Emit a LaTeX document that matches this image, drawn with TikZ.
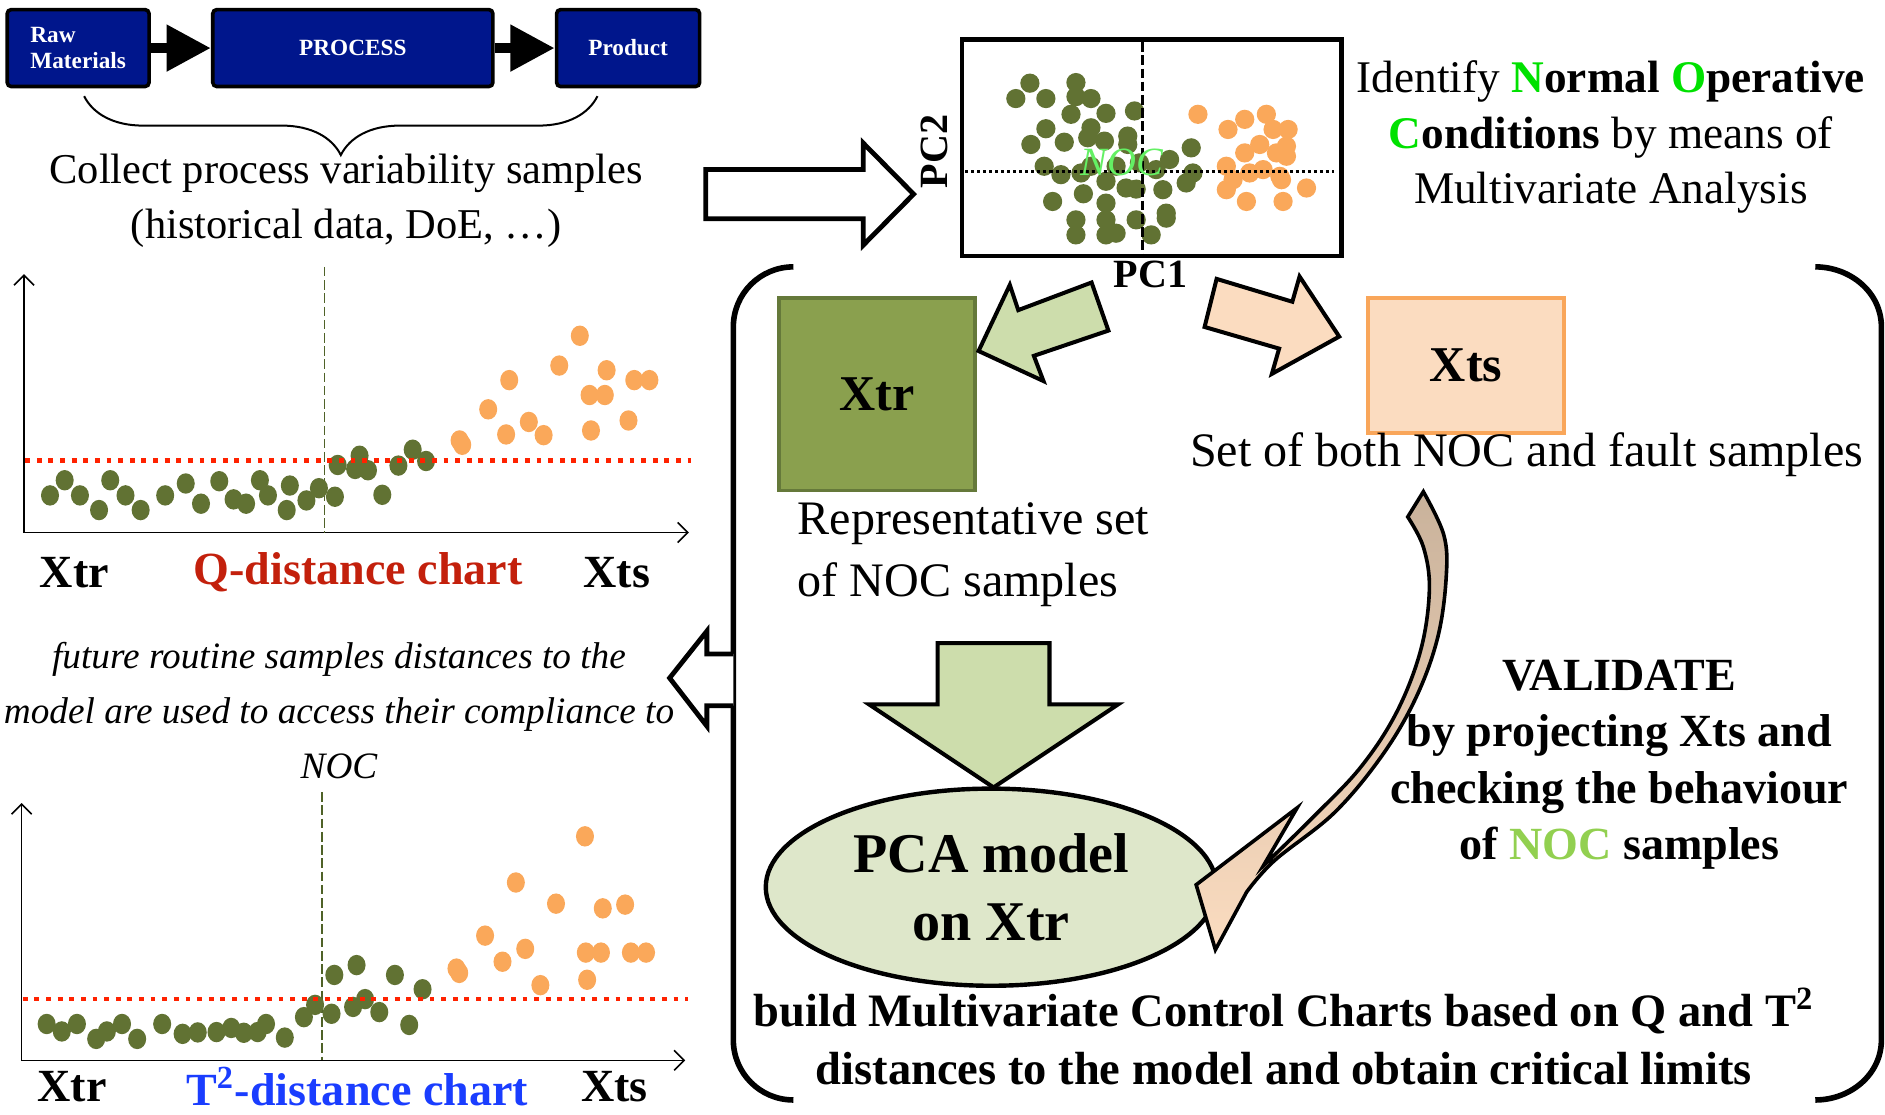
\documentclass[tikz,border=0pt]{standalone}
\usepackage{fontspec}
\setmainfont{Liberation Serif}
\usetikzlibrary{arrows.meta,decorations.pathreplacing,shapes.geometric,positioning}

\definecolor{navy}{RGB}{0,22,140}
\definecolor{olivedot}{RGB}{97,114,51}
\definecolor{orangedot}{RGB}{250,168,90}
\definecolor{limitred}{RGB}{255,34,0}
\definecolor{splitolive}{RGB}{79,98,40}
\definecolor{qred}{RGB}{195,32,12}
\definecolor{tblue}{RGB}{26,61,255}
\definecolor{xtrfill}{RGB}{138,160,78}
\definecolor{xtrline}{RGB}{101,121,58}
\definecolor{lightgreen}{RGB}{205,221,172}
\definecolor{palegreen}{RGB}{222,231,202}
\definecolor{peach}{RGB}{251,220,192}
\definecolor{xtsline}{RGB}{249,166,90}
\definecolor{tan}{RGB}{201,178,155}
\definecolor{idgreen}{RGB}{0,225,0}
\definecolor{nocgreen}{RGB}{100,240,100}
\definecolor{valgreen}{RGB}{146,208,80}

\begin{document}
\begin{tikzpicture}[x=0.3pt, y=-0.3pt,
  procbox/.style={draw=black, fill=navy, line width=0.9pt, rounded corners=1pt,
    minimum height=19.2pt, inner sep=0pt, text=white, align=left,
    font=\fontsize{5.8}{6.6}\selectfont\bfseries},
  flowarrow/.style={line width=2.7pt, -{Triangle[length=11.1pt, width=11pt]}},
  hollowarrow/.style={draw=black, fill=white, line width=1.2pt},
  greenarrow/.style={draw=black, fill=lightgreen, line width=1pt},
  peacharrow/.style={draw=black, fill=peach, line width=1pt},
  plaintext/.style={inner sep=0pt, align=center, font=\fontsize{12}{15.3}\selectfont},
  smalltext/.style={inner sep=0pt, align=center, font=\fontsize{10.6}{13.8}\selectfont},
  boldtext/.style={inner sep=0pt, align=center, font=\fontsize{11.5}{14.1}\selectfont\bfseries},
  chartlabel/.style={inner sep=0pt, font=\fontsize{11.5}{13}\selectfont\bfseries},
  chartaxis/.style={line width=0.4pt, {Straight Barb[length=2.5pt]}-{Straight Barb[length=2.5pt]}},
  splitline/.style={splitolive, line width=0.4pt, dash pattern=on 2.4pt off 0.9pt},
  limitline/.style={limitred, line width=1.2pt, dash pattern=on 1.2pt off 1.7pt},
  bracket/.style={line width=1.4pt},
  gdot/.style={fill=olivedot},
  odot/.style={fill=orangedot}]

  \useasboundingbox (0,0) rectangle (1568,927);

  % process flow on top
  \node (raw) [procbox, minimum width=35.4pt] at (65,40) {Raw\\Materials};
  \node (proc) [procbox, minimum width=69.9pt] at (293.5,40) {PROCESS};
  \node (prod) [procbox, minimum width=35.7pt] at (522.5,40) {Product};
  \draw [flowarrow] (raw) -- (proc);
  \draw [flowarrow] (proc) -- (prod);

  \coordinate (braceL) at (70,80);
  \coordinate (braceR) at (497,80);
  \draw [decorate, decoration={brace, mirror, amplitude=14.7pt}, line width=0.5pt] (braceL) -- (braceR);
  \node (collect) [smalltext] at (288,167) {Collect process variability samples\\(historical data, DoE, \dots)};

  \draw [hollowarrow] (587,141) -- (718,141) -- (718,119) -- (760,161.5) -- (718,204) -- (718,182) -- (587,182) -- cycle;

  % score plot
  \foreach \x/\y in {856.7/69.2, 845/82, 870/82, 895/68.7, 895/80.4, 907.5/82, 890.9/95.1,
      920/94.3, 943.7/92.3, 870/107.1, 907.5/106.3, 857.5/120.2, 885.3/118.3, 904.8/114.6,
      918.7/117.4, 938.1/113.2, 938.1/120.2, 868.6/138.3, 882.5/145.3, 899.2/143.9, 920/150.8,
      936.7/156.4, 945.1/157.3, 967.3/157.8, 972.9/132.7, 990.9/123, 992.3/143.9, 986.7/152.2,
      875.6/167.6, 901.2/161.2, 920/169, 895/182.9, 920/182.9, 945.1/182.9, 970.1/181.5,
      895/195.4, 920/195.4, 928.4/194, 957.6/195.4, 961.7/141.1, 928.4/138.3, 907.5/138.3,
      947.8/135.5, 970.1/177.3}
    \fill [gdot] (\x,\y) circle [radius=8];
  \foreach \x/\y in {996.5/95.1, 1021.5/107.7, 1035.4/99.3, 1053.4/95.1, 1059/107.7,
      1071.5/107.7, 1047.9/120.2, 1035.4/127.2, 1070.1/121.6, 1070.1/130, 1020.1/138.3,
      1039.5/143.9, 1050.7/141.1, 1064.6/146.7, 1066/149.5, 1020.1/157.8, 1036.8/167.6,
      1067.3/167.6, 1086.8/156.4, 1025.7/149.5, 1061.8/127.2}
    \fill [odot] (\x,\y) circle [radius=8];
  \node (pcabox) [draw, line width=1.1pt, minimum width=94.8pt, minimum height=54pt, inner sep=0pt] at (958,123) {};
  \coordinate (pc1top) at (950.5,35);
  \coordinate (pc1bot) at (950.5,212);
  \coordinate (pc2left) at (803,143);
  \coordinate (pc2right) at (1110,143);
  \draw [line width=0.9pt, dash pattern=on 2.4pt off 0.9pt] (pc1top) -- (pc1bot);
  \draw [line width=0.75pt, dash pattern=on 0.75pt off 0.75pt] (pc2left) -- (pc2right);
  \node (noc) [inner sep=0pt, text=nocgreen, font=\fontsize{10}{12}\selectfont\itshape] at (933,135) {NOC};
  \node (pc2) [rotate=90, inner sep=0pt, font=\fontsize{10}{12}\selectfont\bfseries] at (777,126) {PC2};
  \node (pc1) [inner sep=0pt, font=\fontsize{10}{12}\selectfont\bfseries] at (957,228) {PC1};

  \node (identify) [inner sep=0pt, align=center, font=\fontsize{11.3}{13.8}\selectfont] at (1340,114)
    {Identify \textbf{\textcolor{idgreen}{N}ormal} \textbf{\textcolor{idgreen}{O}perative}\\
     \textbf{\textcolor{idgreen}{C}onditions} by means of\\Multivariate Analysis};

  % big bracket
  \draw [bracket] (660,222) to[out=180, in=90] (610,272) -- (610,865) to[out=-90, in=180] (660,915);
  \draw [bracket] (1510,222) to[out=0, in=90] (1565,272) -- (1565,865) to[out=-90, in=0] (1510,915);

  % training and test sets
  \node (xtr) [draw=xtrline, fill=xtrfill, line width=0.9pt, minimum width=48.9pt, minimum height=48pt,
    font=\fontsize{12.5}{14}\selectfont\bfseries] at (729.5,328) {Xtr};
  \node (xts) [draw=xtsline, fill=peach, line width=0.9pt, minimum width=48.9pt, minimum height=33.6pt,
    font=\fontsize{12.5}{14}\selectfont\bfseries] at (1219.5,304) {Xts};
  \draw [greenarrow] (908,235) -- (847,258) -- (840,237) -- (814,292) -- (868,317) -- (860,296) -- (922,275) -- cycle;
  \draw [peacharrow] (1012,232) -- (1075,251) -- (1081,230) -- (1114,280) -- (1058,311) -- (1064,290) -- (1002,272) -- cycle;
  \node (repr) [plaintext, align=left, anchor=west] at (663,461.5) {Representative set\\of NOC samples};
  \node (bothset) [plaintext] at (1270,378) {Set of both NOC and fault samples};

  % model
  \draw [greenarrow] (780,535) -- (873,535) -- (873,586) -- (930,586) -- (826.5,655) -- (723,586) -- (780,586) -- cycle;
  \node (pcamodel) [ellipse, draw, fill=palegreen, line width=1.1pt, minimum width=112.5pt, minimum height=49.2pt,
    inner sep=0pt, align=center, font=\fontsize{14}{16.8}\selectfont\bfseries] at (824.5,738) {PCA model\\on Xtr};

  % validation arrow
  \draw [line width=0.9pt, line join=miter, top color=tan, bottom color=peach]
    plot [smooth, tension=0.6] coordinates {(1184,409) (1201,445) (1203,480) (1196,530) (1178,580)
      (1150,628) (1110,676) (1060,716) (1037,742)}
    -- (1011,790) -- (995,736) -- (1079,672) --
    plot [smooth, tension=0.6] coordinates {(1051,720) (1092,680) (1132,638) (1162,592) (1182,540)
      (1189,490) (1184,455) (1171,430)}
    -- cycle;
  \node (validate) [boldtext] at (1347,636)
    {VALIDATE\\by projecting Xts and\\checking the behaviour\\of \textcolor{valgreen}{NOC} samples};

  \node (charts) [inner sep=0pt, align=center, font=\fontsize{11.6}{14.4}\selectfont\bfseries] at (1068,862)
    {build Multivariate Control Charts based on Q and T\textsuperscript{2}\\distances to the model and obtain critical limits};

  % monitoring
  \draw [hollowarrow] (610,544) -- (588,544) -- (588,525) -- (557,564) -- (588,604) -- (588,587) -- (610,587);
  \node (future) [inner sep=0pt, align=center, font=\fontsize{9.3}{13.8}\selectfont\itshape] at (282,591)
    {future routine samples distances to the\\model are used to access their compliance to\\NOC};

  % Q chart
  \coordinate (qtop) at (20,228);
  \coordinate (qorig) at (20,443);
  \coordinate (qend) at (573,443);
  \draw [chartaxis] (qtop) -- (qorig) -- (qend);
  \draw [splitline] (270,222) -- (270,443);
  \foreach \x/\y in {41.6/412.1, 53.8/399.5, 66.5/412.1, 82.4/424.3, 91.7/399.5, 104.4/412.1,
      117/424.3, 137.4/412.1, 154.5/402.2, 167.2/419, 182.4/400.3, 194.3/415.4, 204.7/419,
      216.2/399.5, 222.9/412.1, 238.5/424.3, 241.1/403.9, 254.9/416.3, 265.3/406.1, 278.6/413.2,
      280.9/386.8, 295.4/390.1, 299.1/379.1, 306.1/391.2, 318/411.6, 331.4/387.3, 343.3/374.1,
      354.4/383.5}
    \fill [gdot] (\x,\y) circle [x radius=7.5, y radius=8.5];
  \foreach \x/\y in {382.3/366.4, 384.5/370, 406.1/340.5, 421/361.4, 423.6/316.2, 439.9/351,
      452.2/362, 465.2/304.1, 482.3/279.3, 490.4/328.6, 491.6/358.1, 503.1/328.6, 504.6/308,
      522.8/349.8, 527.6/316.2, 540.2/316.2}
    \fill [odot] (\x,\y) circle [x radius=7.5, y radius=8.5];
  \draw [limitline] (21,383) -- (575,383);
  \node (qxtr) [chartlabel] at (62,476) {Xtr};
  \node (qname) [chartlabel, text=qred] at (298,476) {Q-distance chart};
  \node (qxts) [chartlabel] at (513,476) {Xts};

  % T2 chart
  \coordinate (ttop) at (18,668);
  \coordinate (torig) at (18,882);
  \coordinate (tend) at (570,882);
  \draw [chartaxis] (ttop) -- (torig) -- (tend);
  \draw [splitline] (268,659) -- (268,882);
  \foreach \x/\y in {38.8/851.8, 51.4/858, 64/851.8, 80/864.2, 88.9/858, 101.5/851.8, 114.1/864.2,
      134.9/851.8, 151.9/860, 164.5/858.8, 180.1/858.5, 192.4/855.1, 202.8/859.1, 214.3/858.5,
      221.3/851.8, 236.9/863.1, 252.8/846.1, 262.1/835.9, 275.8/843.3, 278.1/811, 293.7/837.6,
      296.6/802.8, 303.7/831.1, 315.5/841.9, 328.5/811, 340.4/852.6, 351.5/822.9}
    \fill [gdot] (\x,\y) circle [x radius=7.5, y radius=8.5];
  \foreach \x/\y in {379.7/805.7, 382/809.3, 403.5/778.3, 418/800, 429.1/734.1, 436.9/789.3,
      449.5/819.5, 462.5/751.7, 486.6/695.7, 487.3/792.4, 488.4/815, 499.9/792.4, 501.4/755.6,
      520/752.5, 524.8/792.4, 537.4/792.4}
    \fill [odot] (\x,\y) circle [x radius=7.5, y radius=8.5];
  \draw [limitline] (19,831) -- (572,831);
  \node (txtr) [chartlabel] at (60,904) {Xtr};
  \node (tname) [chartlabel, text=tblue] at (297,904) {T\textsuperscript{2}-distance chart};
  \node (txts) [chartlabel] at (511,904) {Xts};

\end{tikzpicture}
\end{document}
